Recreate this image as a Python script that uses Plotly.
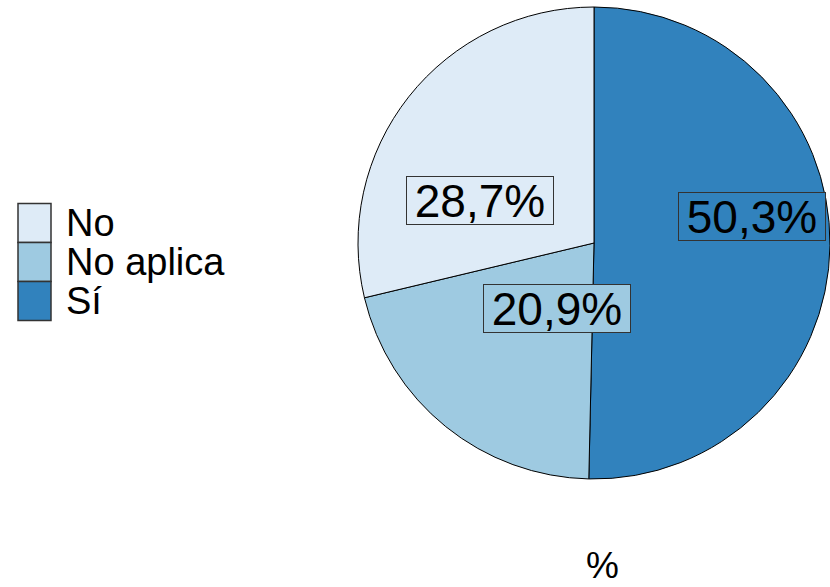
import plotly.graph_objects as go

W, H = 830, 587

# Data
categories = ["No", "No aplica", "Sí"]
percentages = [28.7, 20.9, 50.3]
colors = ["#DEEBF7", "#9ECAE1", "#3182BD"]
label_texts = ["28,7%", "20,9%", "50,3%"]
axis_title = "%"

FONT = "Liberation Sans, Arial, sans-serif"

# pixel helpers (styles / positions only)
def px(x):
    return x / W

def py(y):
    return 1 - y / H

fig = go.Figure()

# pie drawn clockwise from 12 o'clock in reverse legend order (Sí, No aplica, No)
fig.add_trace(go.Pie(
    labels=categories[::-1],
    values=percentages[::-1],
    sort=False,
    direction="clockwise",
    rotation=0,
    marker=dict(colors=colors[::-1], line=dict(color="#000000", width=1)),
    textinfo="none",
    showlegend=False,
    domain=dict(x=[px(358), 1.0], y=[py(479), py(7)]),
))

# boxed percentage labels (ggplot geom_label look)
label_pos = [(480, 200), (557, 308), (752, 216)]
for txt, col, (lx, ly) in zip(label_texts, colors, label_pos):
    fig.add_annotation(
        x=px(lx), y=py(ly), xref="paper", yref="paper",
        text=txt, showarrow=False,
        font=dict(family=FONT, size=46, color="#000000"),
        bgcolor=col, bordercolor="#333333", borderwidth=1, borderpad=1,
        width=144, height=45,
        xanchor="center", yanchor="middle",
    )

# legend built from categories
key_x0, key_x1 = 18, 51
key_top, key_h = 203.5, 39
for i, (cat, col) in enumerate(zip(categories, colors)):
    y0 = key_top + i * key_h
    y1 = y0 + key_h
    fig.add_shape(
        type="rect", xref="paper", yref="paper",
        x0=px(key_x0), x1=px(key_x1), y0=py(y1), y1=py(y0),
        fillcolor=col, line=dict(color="#333333", width=1.5),
    )
    fig.add_annotation(
        x=px(64), y=py((y0 + y1) / 2), xref="paper", yref="paper",
        text=cat, showarrow=False,
        font=dict(family=FONT, size=38, color="#000000"),
        xanchor="left", yanchor="middle",
    )

# axis title "%"
fig.add_annotation(
    x=px(602), y=py(565), xref="paper", yref="paper",
    text=axis_title, showarrow=False,
    font=dict(family=FONT, size=37, color="#000000"),
    xanchor="center", yanchor="middle",
)

fig.update_layout(
    width=W, height=H,
    margin=dict(l=0, r=0, t=0, b=0),
    paper_bgcolor="#FFFFFF",
    plot_bgcolor="#FFFFFF",
    showlegend=False,
)

fig.write_html(
    "out.html",
    config={"displayModeBar": False},
    post_script="document.body.style.margin='0';document.body.style.overflow='hidden';",
)
